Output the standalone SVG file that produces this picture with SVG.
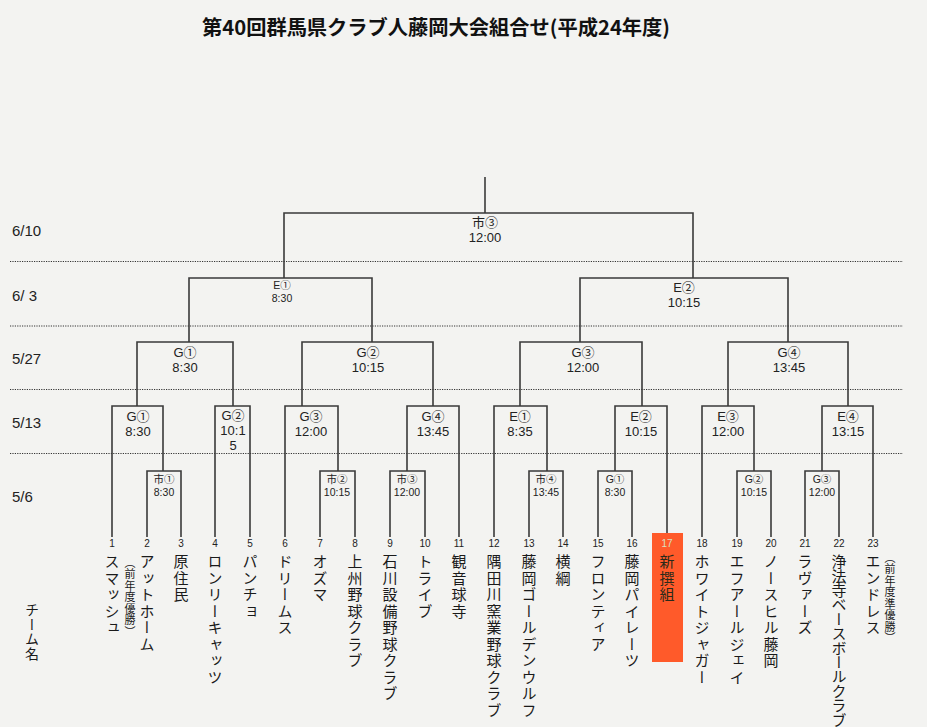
<svg xmlns="http://www.w3.org/2000/svg" width="927" height="727" viewBox="0 0 927 727">
<style>
.bg{fill:#f3f3f1}
.ln{fill:none;stroke:#3a3a3a;stroke-width:1.6}
.dot{fill:none;stroke:#333;stroke-width:1;stroke-dasharray:1.2 1.2}
.ttl{font-family:"Noto Sans CJK JP",sans-serif;font-weight:bold;font-size:20px;fill:#111}
.date{font-family:"Liberation Sans",sans-serif;font-size:15px;fill:#222}
.lb{font-family:"Liberation Sans","Noto Sans CJK JP",sans-serif;font-size:13px;fill:#222;text-anchor:middle}
.sm{font-family:"Liberation Sans","Noto Sans CJK JP",sans-serif;font-size:10.5px;fill:#222;text-anchor:middle}
.num{font-family:"Liberation Sans",sans-serif;font-size:10px;fill:#222;text-anchor:middle}
.tm{font-family:"Noto Sans CJK JP",sans-serif;font-size:15px;letter-spacing:1.5px;fill:#1a1a1a;writing-mode:vertical-rl;text-anchor:start}
.note{font-family:"Noto Sans CJK JP",sans-serif;font-size:11px;letter-spacing:0.5px;fill:#1a1a1a;writing-mode:vertical-rl;text-anchor:start}
.hl{fill:#ff5a2a}
</style>
<rect class="bg" x="0" y="0" width="927" height="727"/>
<text class="ttl" x="202" y="35" textLength="468" lengthAdjust="spacingAndGlyphs">第40回群馬県クラブ人藤岡大会組合せ(平成24年度)</text>

<g id="dates">
<text class="date" x="12" y="236">6/10</text>
<text class="date" x="12" y="301">6/ 3</text>
<text class="date" x="12" y="364">5/27</text>
<text class="date" x="12" y="428">5/13</text>
<text class="date" x="12" y="502">5/6</text>
</g>
<g id="separators">
<line class="dot" x1="10" y1="261.5" x2="903" y2="261.5"/>
<line class="dot" x1="10" y1="326" x2="903" y2="326"/>
<line class="dot" x1="10" y1="389.5" x2="903" y2="389.5"/>
<line class="dot" x1="10" y1="453.5" x2="903" y2="453.5"/>
</g>

<rect id="highlight17" class="hl" x="652" y="533" width="31" height="129"/>

<g id="connectors">
<path class="ln" d="M485 177V213"/>
<path class="ln" d="M284 278V213H693V278"/>
<path class="ln" d="M189 342V278H372V342"/>
<path class="ln" d="M580 342V278H788V342"/>
<path class="ln" d="M137 406V342H233V406"/>
<path class="ln" d="M302 406V342H433V406"/>
<path class="ln" d="M520 406V342H642V406"/>
<path class="ln" d="M728 406V342H848V406"/>
<path class="ln" d="M112 537V406H163V471"/>
<path class="ln" d="M215 537V406H250V537"/>
<path class="ln" d="M285 537V406H338V471"/>
<path class="ln" d="M407 471V406H459V537"/>
<path class="ln" d="M494 537V406H547V471"/>
<path class="ln" d="M615 471V406H667V533"/>
<path class="ln" d="M702 537V406H754V471"/>
<path class="ln" d="M822 471V406H873V537"/>
<path class="ln" d="M147 537V471H181V537"/>
<path class="ln" d="M320 537V471H355V537"/>
<path class="ln" d="M390 537V471H425V537"/>
<path class="ln" d="M529 537V471H563V537"/>
<path class="ln" d="M598 537V471H632V537"/>
<path class="ln" d="M737 537V471H771V537"/>
<path class="ln" d="M805 537V471H839V537"/>
</g>

<g id="m-final"><text class="lb" x="485" y="227">市③</text><text class="lb" x="485" y="242">12:00</text></g>
<g id="m-e1-603"><text class="sm" x="282" y="289">E①</text><text class="sm" x="282" y="302">8:30</text></g>
<g id="m-e2-603"><text class="lb" x="684" y="292">E②</text><text class="lb" x="684" y="307">10:15</text></g>
<g id="m-g1-527"><text class="lb" x="185" y="357">G①</text><text class="lb" x="185" y="372">8:30</text></g>
<g id="m-g2-527"><text class="lb" x="368" y="357">G②</text><text class="lb" x="368" y="372">10:15</text></g>
<g id="m-g3-527"><text class="lb" x="583" y="357">G③</text><text class="lb" x="583" y="372">12:00</text></g>
<g id="m-g4-527"><text class="lb" x="789" y="357">G④</text><text class="lb" x="789" y="372">13:45</text></g>

<g id="m-g1-513"><text class="lb" x="138" y="421">G①</text><text class="lb" x="138" y="436">8:30</text></g>
<g id="m-g2-513"><text class="lb" x="233" y="420">G②</text><text class="lb" x="233" y="435">10:1</text><text class="lb" x="233" y="450">5</text></g>
<g id="m-g3-513"><text class="lb" x="311" y="421">G③</text><text class="lb" x="311" y="436">12:00</text></g>
<g id="m-g4-513"><text class="lb" x="433" y="421">G④</text><text class="lb" x="433" y="436">13:45</text></g>
<g id="m-e1-513"><text class="lb" x="520" y="421">E①</text><text class="lb" x="520" y="436">8:35</text></g>
<g id="m-e2-513"><text class="lb" x="641" y="421">E②</text><text class="lb" x="641" y="436">10:15</text></g>
<g id="m-e3-513"><text class="lb" x="728" y="421">E③</text><text class="lb" x="728" y="436">12:00</text></g>
<g id="m-e4-513"><text class="lb" x="848" y="421">E④</text><text class="lb" x="848" y="436">13:15</text></g>

<g id="m-s1-506"><text class="sm" x="164" y="483">市①</text><text class="sm" x="164" y="496">8:30</text></g>
<g id="m-s2-506"><text class="sm" x="337" y="483">市②</text><text class="sm" x="337" y="496">10:15</text></g>
<g id="m-s3-506"><text class="sm" x="407" y="483">市③</text><text class="sm" x="407" y="496">12:00</text></g>
<g id="m-s4-506"><text class="sm" x="546" y="483">市④</text><text class="sm" x="546" y="496">13:45</text></g>
<g id="m-g1-506"><text class="sm" x="615" y="483">G①</text><text class="sm" x="615" y="496">8:30</text></g>
<g id="m-g2-506"><text class="sm" x="754" y="483">G②</text><text class="sm" x="754" y="496">10:15</text></g>
<g id="m-g3-506"><text class="sm" x="822" y="483">G③</text><text class="sm" x="822" y="496">12:00</text></g>

<text id="label-teams" class="tm" x="32" y="603" style="font-size:14px;letter-spacing:0.5px">チーム名</text>

<g id="t1"><text class="num" x="112" y="547">1</text><text class="tm" x="112" y="554">スマッシュ</text></g>
<g id="t2"><text class="num" x="147" y="547">2</text><text class="tm" x="147" y="554">アットホーム</text><text class="note" x="130" y="557">（前年度優勝）</text></g>
<g id="t3"><text class="num" x="181" y="547">3</text><text class="tm" x="181" y="554">原住民</text></g>
<g id="t4"><text class="num" x="215" y="547">4</text><text class="tm" x="215" y="554">ロンリーキャッツ</text></g>
<g id="t5"><text class="num" x="250" y="547">5</text><text class="tm" x="250" y="554">パンチョ</text></g>
<g id="t6"><text class="num" x="285" y="547">6</text><text class="tm" x="285" y="554">ドリームス</text></g>
<g id="t7"><text class="num" x="320" y="547">7</text><text class="tm" x="320" y="554">オズマ</text></g>
<g id="t8"><text class="num" x="355" y="547">8</text><text class="tm" x="355" y="554">上州野球クラブ</text></g>
<g id="t9"><text class="num" x="390" y="547">9</text><text class="tm" x="390" y="554">石川設備野球クラブ</text></g>
<g id="t10"><text class="num" x="425" y="547">10</text><text class="tm" x="425" y="554">トライブ</text></g>
<g id="t11"><text class="num" x="459" y="547">11</text><text class="tm" x="459" y="554">観音球寺</text></g>
<g id="t12"><text class="num" x="494" y="547">12</text><text class="tm" x="494" y="554">隅田川窯業野球クラブ</text></g>
<g id="t13"><text class="num" x="529" y="547">13</text><text class="tm" x="529" y="554">藤岡ゴールデンウルフ</text></g>
<g id="t14"><text class="num" x="563" y="547">14</text><text class="tm" x="563" y="554">横綱</text></g>
<g id="t15"><text class="num" x="598" y="547">15</text><text class="tm" x="598" y="554">フロンティア</text></g>
<g id="t16"><text class="num" x="632" y="547">16</text><text class="tm" x="632" y="554">藤岡パイレーツ</text></g>
<g id="t17"><text class="num" x="667" y="547" style="fill:#d8e0c0">17</text><text class="tm" x="667" y="554" style="fill:#2a2a1a">新撰組</text></g>
<g id="t18"><text class="num" x="702" y="547">18</text><text class="tm" x="702" y="554">ホワイトジャガー</text></g>
<g id="t19"><text class="num" x="737" y="547">19</text><text class="tm" x="737" y="554">エフアールジェイ</text></g>
<g id="t20"><text class="num" x="771" y="547">20</text><text class="tm" x="771" y="554">ノースヒル藤岡</text></g>
<g id="t21"><text class="num" x="805" y="547">21</text><text class="tm" x="805" y="554">ラヴァーズ</text></g>
<g id="t22"><text class="num" x="839" y="547">22</text><text class="tm" x="839" y="554" style="letter-spacing:-0.6px">浄法寺ベースボールクラブ</text></g>
<g id="t23"><text class="num" x="873" y="547">23</text><text class="tm" x="873" y="554">エンドレス</text><text class="note" x="890" y="552">（前年度準優勝）</text></g>
</svg>
